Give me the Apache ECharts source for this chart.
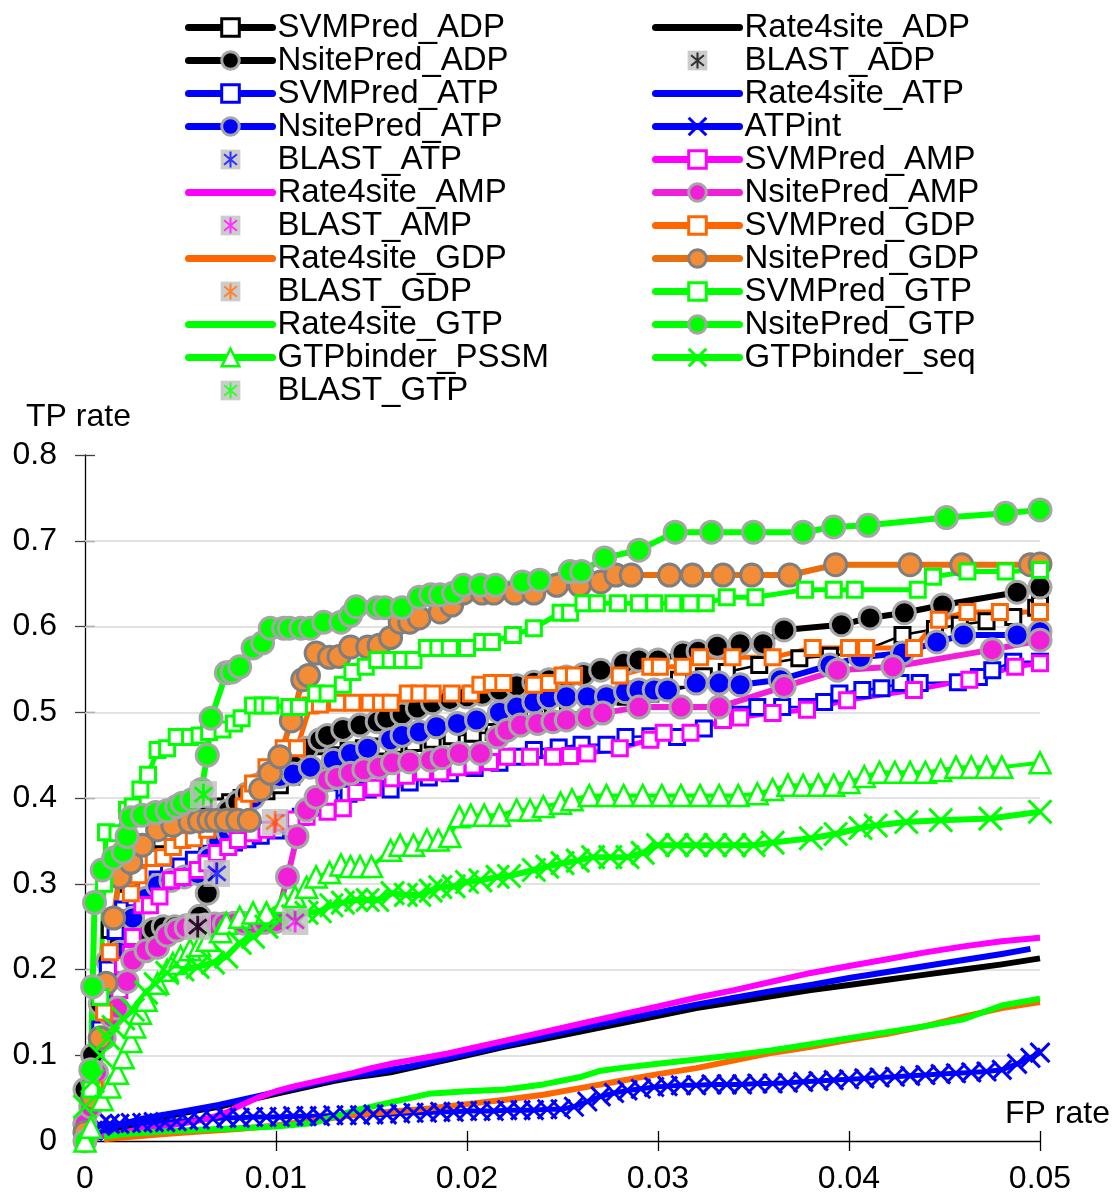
<!DOCTYPE html>
<html>
<head>
<meta charset="utf-8">
<title>TP rate vs FP rate</title>
<script src="https://cdn.jsdelivr.net/npm/echarts@6/dist/echarts.min.js"></script>
<style>
  html, body { margin: 0; padding: 0; background: #fff; }
  #chart { width: 1117px; height: 1197px; }
</style>
</head>
<body>
<div id="chart"></div>
<script>
// ---- axis ticks and grid levels ----
const xTicks = [0, 0.01, 0.02, 0.03, 0.04, 0.05];
const yTicks = [0, 0.1, 0.2, 0.3, 0.4, 0.5, 0.6, 0.7, 0.8];
const gridLevels = [0.1, 0.2, 0.3, 0.4, 0.5, 0.6, 0.7];

// ---- ADP ----
const svmPredADP = [[0,0],[0.0003,0.05],[0.0008,0.12],[0.0011,0.17],[0.0013,0.246],[0.0018,0.25],[0.0023,0.30],[0.0027,0.345],[0.0033,0.345],[0.004,0.352],[0.0046,0.355],[0.0052,0.36],[0.0058,0.372],[0.0064,0.38],[0.007,0.39],[0.0076,0.395],[0.0082,0.4],[0.0088,0.405],[0.0095,0.408],[0.0102,0.415],[0.0108,0.425],[0.0115,0.435],[0.0122,0.443],[0.013,0.45],[0.0138,0.455],[0.0146,0.458],[0.0154,0.46],[0.0162,0.462],[0.0172,0.464],[0.0182,0.468],[0.0192,0.472],[0.0203,0.475],[0.0214,0.477],[0.0225,0.49],[0.0235,0.503],[0.0245,0.505],[0.0256,0.508],[0.027,0.514],[0.0283,0.518],[0.0296,0.522],[0.0311,0.538],[0.0324,0.542],[0.0336,0.547],[0.0353,0.555],[0.0374,0.563],[0.039,0.566],[0.0406,0.57],[0.0428,0.59],[0.0445,0.597],[0.0458,0.602],[0.0472,0.606],[0.0486,0.611],[0.0498,0.622],[0.05,0.625]];
const rate4siteADP = [[0,0],[0.001,0.008],[0.002,0.016],[0.003,0.022],[0.004,0.027],[0.005,0.032],[0.006,0.036],[0.007,0.04],[0.008,0.045],[0.009,0.05],[0.01,0.055],[0.011,0.06],[0.012,0.065],[0.013,0.07],[0.014,0.074],[0.015,0.077],[0.016,0.08],[0.017,0.085],[0.018,0.09],[0.019,0.095],[0.02,0.1],[0.022,0.11],[0.024,0.119],[0.026,0.128],[0.028,0.137],[0.03,0.146],[0.032,0.155],[0.034,0.162],[0.036,0.169],[0.038,0.176],[0.04,0.182],[0.042,0.188],[0.044,0.194],[0.046,0.2],[0.048,0.206],[0.05,0.213]];
const nsitePredADP = [[0,0.06],[0.0004,0.1],[0.0008,0.16],[0.0012,0.21],[0.0018,0.232],[0.0025,0.24],[0.003,0.243],[0.0036,0.247],[0.0041,0.25],[0.0047,0.25],[0.0053,0.251],[0.006,0.262],[0.0064,0.289],[0.0067,0.33],[0.007,0.37],[0.0075,0.385],[0.008,0.395],[0.0085,0.405],[0.009,0.415],[0.0095,0.422],[0.01,0.43],[0.0105,0.44],[0.0109,0.452],[0.0116,0.458],[0.0123,0.468],[0.0127,0.473],[0.0135,0.48],[0.0144,0.485],[0.0153,0.489],[0.0158,0.493],[0.0166,0.498],[0.0174,0.505],[0.0182,0.511],[0.0191,0.515],[0.02,0.518],[0.0208,0.521],[0.0217,0.526],[0.0226,0.531],[0.0235,0.535],[0.0243,0.538],[0.0252,0.541],[0.0261,0.544],[0.027,0.549],[0.0282,0.557],[0.029,0.561],[0.03,0.561],[0.0313,0.569],[0.0321,0.571],[0.0331,0.577],[0.0343,0.58],[0.0355,0.58],[0.0366,0.596],[0.0396,0.602],[0.0411,0.61],[0.0429,0.616],[0.0449,0.625],[0.0488,0.64],[0.05,0.646]];
const blastADP = [[0.0059,0.25]];

// ---- ATP ----
const svmPredATP = [[0,0],[0.0004,0.07],[0.0008,0.13],[0.0012,0.2],[0.0016,0.245],[0.002,0.27],[0.0026,0.283],[0.0032,0.295],[0.0038,0.305],[0.0044,0.313],[0.005,0.32],[0.0057,0.328],[0.0064,0.335],[0.0071,0.343],[0.0078,0.348],[0.0085,0.352],[0.0092,0.356],[0.01,0.362],[0.0107,0.37],[0.0113,0.378],[0.0121,0.39],[0.0128,0.401],[0.0138,0.405],[0.0148,0.41],[0.016,0.41],[0.017,0.418],[0.018,0.424],[0.0191,0.429],[0.0204,0.435],[0.0217,0.441],[0.0226,0.448],[0.0235,0.456],[0.0248,0.459],[0.026,0.462],[0.0273,0.462],[0.0283,0.471],[0.0296,0.472],[0.031,0.471],[0.0324,0.481],[0.0334,0.491],[0.0343,0.497],[0.0352,0.506],[0.0365,0.506],[0.0378,0.506],[0.0387,0.512],[0.0395,0.522],[0.0407,0.526],[0.0417,0.528],[0.0427,0.534],[0.0437,0.534],[0.0457,0.535],[0.0468,0.541],[0.0475,0.549],[0.0486,0.559],[0.05,0.559]];
const rate4siteATP = [[0,0],[0.001,0.012],[0.002,0.02],[0.003,0.026],[0.004,0.03],[0.005,0.034],[0.006,0.038],[0.007,0.042],[0.008,0.047],[0.009,0.052],[0.01,0.057],[0.011,0.062],[0.012,0.067],[0.013,0.072],[0.014,0.076],[0.015,0.079],[0.016,0.083],[0.017,0.087],[0.018,0.092],[0.019,0.097],[0.02,0.102],[0.022,0.112],[0.024,0.122],[0.026,0.132],[0.028,0.141],[0.03,0.15],[0.032,0.159],[0.034,0.167],[0.036,0.175],[0.038,0.182],[0.04,0.19],[0.042,0.197],[0.044,0.204],[0.046,0.211],[0.048,0.218],[0.0495,0.224]];
const nsitePredATP = [[0,0.02],[0.0004,0.07],[0.0008,0.12],[0.0012,0.17],[0.0018,0.22],[0.0025,0.26],[0.0032,0.283],[0.0038,0.298],[0.0045,0.304],[0.0052,0.308],[0.0059,0.312],[0.0065,0.33],[0.007,0.35],[0.0075,0.36],[0.008,0.366],[0.0084,0.38],[0.0088,0.4],[0.0095,0.42],[0.0102,0.425],[0.0109,0.428],[0.0118,0.436],[0.013,0.444],[0.0139,0.452],[0.0148,0.458],[0.016,0.468],[0.0166,0.473],[0.0175,0.477],[0.0184,0.483],[0.0195,0.487],[0.0205,0.491],[0.0217,0.5],[0.0226,0.506],[0.0235,0.512],[0.0243,0.517],[0.0252,0.518],[0.0263,0.518],[0.0273,0.518],[0.0283,0.524],[0.029,0.526],[0.0298,0.526],[0.0305,0.526],[0.032,0.534],[0.0332,0.534],[0.0343,0.532],[0.0364,0.538],[0.039,0.555],[0.0406,0.564],[0.0428,0.569],[0.0446,0.582],[0.046,0.59],[0.0488,0.59],[0.05,0.594]];
const atpInt = [[0,0.005],[0.0004,0.012],[0.0008,0.018],[0.0013,0.02],[0.0018,0.02],[0.0024,0.021],[0.003,0.021],[0.0036,0.022],[0.0042,0.022],[0.0048,0.023],[0.0054,0.024],[0.006,0.025],[0.0067,0.026],[0.0074,0.027],[0.0081,0.027],[0.0088,0.028],[0.0095,0.028],[0.0102,0.028],[0.0109,0.029],[0.0116,0.029],[0.0123,0.029],[0.013,0.03],[0.0137,0.03],[0.0144,0.03],[0.0151,0.031],[0.0158,0.031],[0.0165,0.032],[0.0172,0.033],[0.0179,0.033],[0.0186,0.034],[0.0193,0.034],[0.02,0.035],[0.0207,0.035],[0.0214,0.035],[0.0221,0.036],[0.0228,0.036],[0.0235,0.036],[0.0242,0.037],[0.0249,0.037],[0.0256,0.04],[0.0263,0.046],[0.027,0.052],[0.0277,0.056],[0.0284,0.059],[0.0291,0.061],[0.0298,0.063],[0.0305,0.064],[0.0312,0.065],[0.032,0.065],[0.0328,0.066],[0.0336,0.066],[0.0344,0.066],[0.0352,0.067],[0.036,0.067],[0.0368,0.068],[0.0376,0.069],[0.0384,0.07],[0.0392,0.071],[0.04,0.072],[0.0408,0.073],[0.0416,0.074],[0.0424,0.075],[0.0432,0.076],[0.044,0.077],[0.0448,0.078],[0.0456,0.079],[0.0464,0.08],[0.0472,0.081],[0.048,0.083],[0.0488,0.09],[0.0495,0.097],[0.05,0.103]];
const blastATP = [[0.0069,0.312]];

// ---- AMP ----
const svmPredAMP = [[0,0],[0.0003,0.06],[0.0008,0.12],[0.0013,0.155],[0.0018,0.176],[0.002,0.205],[0.0024,0.218],[0.0025,0.238],[0.003,0.275],[0.0034,0.275],[0.0039,0.285],[0.0045,0.304],[0.0051,0.308],[0.0059,0.316],[0.0064,0.324],[0.0069,0.336],[0.0075,0.343],[0.008,0.351],[0.0088,0.359],[0.0095,0.363],[0.0104,0.371],[0.011,0.375],[0.0116,0.378],[0.0127,0.384],[0.0135,0.388],[0.0142,0.407],[0.0151,0.412],[0.0161,0.423],[0.0168,0.426],[0.0177,0.43],[0.0186,0.43],[0.0195,0.436],[0.0203,0.438],[0.0212,0.442],[0.0221,0.448],[0.0233,0.448],[0.0245,0.448],[0.0254,0.449],[0.0263,0.452],[0.028,0.458],[0.0296,0.468],[0.0303,0.476],[0.0317,0.476],[0.0334,0.491],[0.0343,0.494],[0.036,0.499],[0.0378,0.503],[0.0399,0.514],[0.0434,0.526],[0.0463,0.538],[0.0487,0.553],[0.05,0.557]];
const rate4siteAMP = [[0,0],[0.001,0.006],[0.002,0.01],[0.003,0.014],[0.004,0.017],[0.005,0.02],[0.006,0.024],[0.007,0.03],[0.0075,0.034],[0.008,0.04],[0.009,0.05],[0.01,0.058],[0.011,0.064],[0.012,0.069],[0.013,0.074],[0.014,0.079],[0.015,0.085],[0.016,0.09],[0.017,0.094],[0.018,0.098],[0.019,0.102],[0.02,0.107],[0.022,0.117],[0.024,0.127],[0.026,0.137],[0.028,0.147],[0.03,0.157],[0.032,0.167],[0.034,0.176],[0.036,0.186],[0.038,0.196],[0.04,0.204],[0.042,0.212],[0.044,0.22],[0.046,0.227],[0.048,0.233],[0.05,0.237]];
const nsitePredAMP = [[0,0.02],[0.0003,0.04],[0.0006,0.08],[0.001,0.12],[0.0014,0.145],[0.0017,0.155],[0.0022,0.186],[0.0025,0.211],[0.0032,0.222],[0.0038,0.226],[0.0043,0.24],[0.0048,0.246],[0.0053,0.249],[0.0058,0.25],[0.0063,0.252],[0.0068,0.253],[0.0073,0.253],[0.0078,0.254],[0.0083,0.254],[0.0088,0.254],[0.0094,0.255],[0.01,0.256],[0.0106,0.308],[0.0111,0.355],[0.0116,0.386],[0.0121,0.401],[0.0127,0.421],[0.0132,0.424],[0.0139,0.429],[0.0146,0.433],[0.0154,0.436],[0.0161,0.441],[0.017,0.442],[0.0181,0.444],[0.0187,0.447],[0.0196,0.452],[0.0207,0.452],[0.0216,0.471],[0.0221,0.479],[0.0228,0.485],[0.0237,0.487],[0.0245,0.489],[0.0252,0.491],[0.0263,0.494],[0.0271,0.499],[0.029,0.506],[0.0312,0.506],[0.0332,0.506],[0.0366,0.53],[0.0394,0.549],[0.0423,0.553],[0.0475,0.573],[0.05,0.584]];
const blastAMP = [[0.011,0.256]];

// ---- GDP ----
const svmPredGDP = [[0,0],[0.0005,0.06],[0.001,0.15],[0.0013,0.22],[0.0016,0.26],[0.0024,0.289],[0.0028,0.31],[0.0032,0.33],[0.0036,0.33],[0.0041,0.331],[0.0046,0.343],[0.0051,0.351],[0.0057,0.353],[0.0064,0.363],[0.0071,0.371],[0.0078,0.378],[0.0083,0.39],[0.0086,0.405],[0.0088,0.417],[0.0095,0.436],[0.0104,0.458],[0.0111,0.458],[0.0118,0.508],[0.0123,0.509],[0.0132,0.511],[0.014,0.511],[0.0149,0.511],[0.0155,0.511],[0.016,0.511],[0.0169,0.522],[0.0175,0.522],[0.0182,0.522],[0.0192,0.522],[0.0202,0.522],[0.0207,0.532],[0.0213,0.534],[0.0219,0.534],[0.0235,0.532],[0.0243,0.534],[0.025,0.543],[0.0256,0.543],[0.028,0.543],[0.0296,0.553],[0.0301,0.553],[0.0313,0.553],[0.0322,0.564],[0.0339,0.564],[0.036,0.564],[0.0381,0.575],[0.04,0.575],[0.0409,0.575],[0.0434,0.575],[0.0447,0.608],[0.0462,0.617],[0.0479,0.617],[0.05,0.617]];
const rate4siteGDP = [[0.001,0.002],[0.002,0.004],[0.004,0.008],[0.006,0.011],[0.008,0.014],[0.01,0.018],[0.012,0.024],[0.014,0.03],[0.016,0.034],[0.018,0.038],[0.02,0.043],[0.022,0.048],[0.024,0.054],[0.026,0.062],[0.028,0.07],[0.03,0.078],[0.032,0.085],[0.034,0.094],[0.036,0.103],[0.038,0.11],[0.04,0.118],[0.042,0.125],[0.044,0.134],[0.046,0.145],[0.048,0.155],[0.05,0.162]];
const nsitePredGDP = [[0,0.01],[0.0004,0.05],[0.0008,0.12],[0.0011,0.184],[0.0015,0.26],[0.0018,0.308],[0.0024,0.325],[0.003,0.345],[0.0038,0.363],[0.0046,0.368],[0.0055,0.372],[0.006,0.373],[0.0065,0.374],[0.0069,0.374],[0.0074,0.374],[0.008,0.374],[0.0086,0.374],[0.0092,0.41],[0.0097,0.429],[0.0102,0.448],[0.0108,0.49],[0.0114,0.538],[0.0117,0.543],[0.0121,0.569],[0.0128,0.564],[0.0133,0.565],[0.0139,0.576],[0.0148,0.576],[0.0154,0.578],[0.016,0.587],[0.0165,0.605],[0.017,0.605],[0.0175,0.61],[0.0186,0.617],[0.0192,0.625],[0.0198,0.639],[0.0208,0.639],[0.0214,0.639],[0.0225,0.639],[0.0235,0.639],[0.0247,0.648],[0.0259,0.648],[0.027,0.652],[0.0278,0.66],[0.0286,0.66],[0.0306,0.66],[0.0318,0.66],[0.0334,0.66],[0.0349,0.66],[0.0369,0.66],[0.0393,0.672],[0.0432,0.672],[0.0459,0.672],[0.0495,0.672],[0.05,0.673]];
const blastGDP = [[0.00995,0.372]];

// ---- GTP ----
const svmPredGTP = [[0,0],[0.0003,0.06],[0.0008,0.168],[0.001,0.3],[0.0011,0.36],[0.0017,0.359],[0.0022,0.386],[0.0025,0.39],[0.0029,0.41],[0.0033,0.427],[0.0038,0.456],[0.0043,0.458],[0.0048,0.471],[0.0055,0.471],[0.006,0.473],[0.0065,0.477],[0.0072,0.48],[0.0078,0.487],[0.0082,0.493],[0.0088,0.508],[0.0093,0.508],[0.0097,0.508],[0.0107,0.506],[0.0112,0.506],[0.0121,0.522],[0.0127,0.522],[0.0135,0.532],[0.014,0.547],[0.0147,0.553],[0.0153,0.561],[0.016,0.561],[0.0166,0.561],[0.0172,0.561],[0.0179,0.575],[0.0185,0.575],[0.0191,0.575],[0.02,0.575],[0.0208,0.582],[0.0213,0.582],[0.0224,0.59],[0.0235,0.598],[0.0249,0.616],[0.0254,0.616],[0.0261,0.627],[0.0268,0.627],[0.0279,0.627],[0.029,0.627],[0.0298,0.627],[0.0308,0.627],[0.0317,0.627],[0.0325,0.627],[0.0336,0.634],[0.0351,0.634],[0.0377,0.643],[0.0392,0.643],[0.0403,0.643],[0.0436,0.643],[0.0444,0.658],[0.0462,0.664],[0.0482,0.664],[0.05,0.666]];
const rate4siteGTP = [[0.001,0.005],[0.002,0.008],[0.004,0.011],[0.006,0.013],[0.008,0.015],[0.01,0.017],[0.012,0.021],[0.014,0.035],[0.016,0.045],[0.018,0.055],[0.02,0.058],[0.022,0.06],[0.024,0.066],[0.026,0.075],[0.027,0.082],[0.028,0.085],[0.03,0.09],[0.032,0.095],[0.034,0.1],[0.036,0.106],[0.038,0.113],[0.04,0.12],[0.042,0.127],[0.044,0.134],[0.046,0.142],[0.048,0.158],[0.05,0.166]];
const nsitePredGTP = [[0,0],[0.0003,0.083],[0.0004,0.18],[0.0005,0.278],[0.0009,0.316],[0.0015,0.33],[0.002,0.337],[0.0022,0.355],[0.0024,0.377],[0.003,0.38],[0.0037,0.383],[0.0043,0.385],[0.0048,0.39],[0.0051,0.394],[0.0056,0.398],[0.0061,0.41],[0.0064,0.45],[0.0066,0.493],[0.0074,0.546],[0.0077,0.547],[0.0081,0.553],[0.0088,0.575],[0.0093,0.581],[0.0097,0.598],[0.0104,0.598],[0.0107,0.598],[0.0113,0.598],[0.0118,0.598],[0.0125,0.605],[0.0134,0.605],[0.0139,0.613],[0.0142,0.623],[0.0153,0.622],[0.0157,0.622],[0.0166,0.622],[0.0175,0.634],[0.0181,0.637],[0.0186,0.637],[0.0193,0.639],[0.0198,0.648],[0.0207,0.648],[0.0215,0.648],[0.0229,0.652],[0.0238,0.654],[0.0254,0.664],[0.026,0.664],[0.0272,0.68],[0.029,0.689],[0.0309,0.71],[0.0328,0.71],[0.035,0.71],[0.0376,0.71],[0.0392,0.716],[0.041,0.718],[0.0451,0.727],[0.0482,0.732],[0.05,0.736]];
const gtpBinderPSSM = [[0,0],[0.0003,0.016],[0.0009,0.048],[0.0013,0.063],[0.0017,0.079],[0.002,0.097],[0.0024,0.116],[0.0026,0.133],[0.0029,0.149],[0.0032,0.164],[0.0038,0.184],[0.0043,0.199],[0.0046,0.207],[0.005,0.215],[0.0055,0.223],[0.006,0.228],[0.0064,0.234],[0.0071,0.244],[0.0074,0.254],[0.0081,0.261],[0.0088,0.266],[0.0095,0.266],[0.0104,0.278],[0.011,0.285],[0.0116,0.296],[0.0121,0.308],[0.0128,0.313],[0.0134,0.322],[0.0139,0.32],[0.0144,0.32],[0.015,0.32],[0.016,0.339],[0.0165,0.345],[0.0172,0.345],[0.0179,0.351],[0.0185,0.351],[0.0191,0.355],[0.0196,0.378],[0.0202,0.38],[0.0209,0.38],[0.0217,0.38],[0.0226,0.386],[0.0233,0.386],[0.024,0.39],[0.0249,0.394],[0.0255,0.398],[0.0264,0.403],[0.0273,0.403],[0.0282,0.403],[0.0292,0.403],[0.0302,0.403],[0.0312,0.403],[0.0322,0.403],[0.0332,0.403],[0.0342,0.403],[0.0352,0.405],[0.036,0.41],[0.0368,0.415],[0.0376,0.415],[0.0384,0.415],[0.0392,0.415],[0.04,0.418],[0.0408,0.425],[0.0416,0.43],[0.0424,0.43],[0.0432,0.43],[0.044,0.43],[0.0448,0.432],[0.0456,0.436],[0.0464,0.436],[0.0472,0.436],[0.048,0.436],[0.05,0.441]];
const gtpBinderSeq = [[0,0.04],[0.0004,0.07],[0.0008,0.1],[0.0012,0.12],[0.0015,0.133],[0.002,0.143],[0.0025,0.153],[0.0032,0.173],[0.0037,0.183],[0.0043,0.196],[0.0051,0.2],[0.0059,0.203],[0.0067,0.208],[0.0074,0.215],[0.0081,0.231],[0.0088,0.238],[0.0095,0.25],[0.0102,0.258],[0.0109,0.262],[0.0116,0.266],[0.0123,0.268],[0.0129,0.275],[0.0135,0.278],[0.0142,0.281],[0.0148,0.281],[0.0153,0.281],[0.0161,0.289],[0.0168,0.287],[0.0175,0.287],[0.0181,0.292],[0.0186,0.296],[0.0193,0.297],[0.02,0.302],[0.0207,0.304],[0.0216,0.308],[0.0222,0.309],[0.0235,0.316],[0.0242,0.32],[0.025,0.324],[0.0258,0.327],[0.0266,0.331],[0.0275,0.331],[0.0284,0.331],[0.0292,0.336],[0.03,0.345],[0.031,0.345],[0.032,0.345],[0.033,0.345],[0.034,0.345],[0.035,0.345],[0.036,0.348],[0.038,0.353],[0.0393,0.358],[0.0406,0.365],[0.0414,0.368],[0.043,0.372],[0.0448,0.374],[0.0474,0.376],[0.05,0.384]];
const blastGTP = [[0.0062,0.404]];

// ---- legend columns ----
const legendLeft = ['SVMPred_ADP','NsitePred_ADP','SVMPred_ATP','NsitePred_ATP','BLAST_ATP','Rate4site_AMP','BLAST_AMP','Rate4site_GDP','BLAST_GDP','Rate4site_GTP','GTPbinder_PSSM','BLAST_GTP'];
const legendRight = ['Rate4site_ADP','BLAST_ADP','Rate4site_ATP','ATPint','SVMPred_AMP','NsitePred_AMP','SVMPred_GDP','NsitePred_GDP','SVMPred_GTP','NsitePred_GTP','GTPbinder_seq'];

// ---- styling ----
const FONT = '"Liberation Sans", Arial, sans-serif';
const BLACK = '#000000', BLUE = '#0000ff', MAGENTA = '#ff00ff', PINK = '#f020d8';
const ORANGE = '#ff6600', DARK_ORANGE = '#e86e0e', ORANGE_FILL = '#f28c36', GREEN = '#00ff00';
const GRAY = '#a6a6a6', DARK_GRAY = '#7f7f7f';
const CROSS = 'path://M0,0L10,10M10,0L0,10';
const BLAST_COLORS = { BLAST_ADP: BLACK, BLAST_ATP: BLUE, BLAST_AMP: MAGENTA, BLAST_GDP: ORANGE, BLAST_GTP: GREEN };

// grey square with a coloured asterisk; `pad` leaves a transparent margin
function asteriskIcon(color, pad) {
  const p = pad || 0;
  const svg = "<svg xmlns='http://www.w3.org/2000/svg' width='" + (52 + 2 * p) + "' height='" + (52 + 2 * p) +
    "' viewBox='" + (-p) + " " + (-p) + " " + (52 + 2 * p) + " " + (52 + 2 * p) + "'>" +
    "<rect x='0' y='0' width='52' height='52' fill='#c0c0c0'/>" +
    "<path d='M26,5V47M9,12L43,40M43,12L9,40' stroke='" + color + "' stroke-width='5.5' fill='none'/></svg>";
  return 'image://data:image/svg+xml;charset=utf-8,' + encodeURIComponent(svg);
}

function plain(name, data, color, width) {
  return { type: 'line', name, data, symbol: 'none', clip: false,
    lineStyle: { color, width, join: 'round' }, itemStyle: { color } };
}
function squares(name, data, color, width) {
  return { type: 'line', name, data, symbol: 'rect', symbolSize: 15, clip: false,
    lineStyle: { color, width, join: 'round' },
    itemStyle: { color: '#ffffff', borderColor: color, borderWidth: 3 } };
}
function circles(name, data, lineColor, fill, border) {
  return { type: 'line', name, data, symbol: 'circle', symbolSize: 22, clip: false,
    lineStyle: { color: lineColor, width: 6, join: 'round' },
    itemStyle: { color: fill, borderColor: border, borderWidth: 3 } };
}
function crosses(name, data, color, width, size) {
  return { type: 'line', name, data, symbol: CROSS, symbolSize: size, clip: false,
    lineStyle: { color, width, join: 'round' },
    itemStyle: { color, borderColor: color, borderWidth: 3 } };
}
function triangles(name, data, color, width) {
  return { type: 'line', name, data, symbol: 'triangle', symbolSize: 21, clip: false,
    lineStyle: { color, width, join: 'round' },
    itemStyle: { color: '#ffffff', borderColor: color, borderWidth: 2.5 } };
}
function blast(name, data, color) {
  return { type: 'scatter', name, data, symbol: asteriskIcon(color), symbolSize: 27,
    symbolKeepAspect: true, z: 10, itemStyle: { color } };
}

const series = [
  Object.assign(squares('SVMPred_ADP', svmPredADP, BLACK, 2.5), {
    markLine: { silent: true, symbol: 'none', z: 1, animation: false,
      label: { show: false },
      lineStyle: { color: '#d9d9d9', width: 1.5, type: 'solid' },
      data: gridLevels.map(v => ({ yAxis: v })) }
  }),
  plain('Rate4site_ADP', rate4siteADP, BLACK, 6),
  circles('NsitePred_ADP', nsitePredADP, BLACK, BLACK, GRAY),
  blast('BLAST_ADP', blastADP, BLACK),
  squares('SVMPred_ATP', svmPredATP, BLUE, 2.5),
  plain('Rate4site_ATP', rate4siteATP, BLUE, 6),
  circles('NsitePred_ATP', nsitePredATP, BLUE, BLUE, GRAY),
  crosses('ATPint', atpInt, BLUE, 5, 19),
  blast('BLAST_ATP', blastATP, BLUE),
  squares('SVMPred_AMP', svmPredAMP, MAGENTA, 5),
  plain('Rate4site_AMP', rate4siteAMP, MAGENTA, 6),
  circles('NsitePred_AMP', nsitePredAMP, PINK, PINK, GRAY),
  blast('BLAST_AMP', blastAMP, MAGENTA),
  squares('SVMPred_GDP', svmPredGDP, ORANGE, 5),
  plain('Rate4site_GDP', rate4siteGDP, ORANGE, 6),
  circles('NsitePred_GDP', nsitePredGDP, DARK_ORANGE, ORANGE_FILL, DARK_GRAY),
  blast('BLAST_GDP', blastGDP, ORANGE),
  squares('SVMPred_GTP', svmPredGTP, GREEN, 5),
  plain('Rate4site_GTP', rate4siteGTP, GREEN, 6),
  circles('NsitePred_GTP', nsitePredGTP, GREEN, GREEN, GRAY),
  triangles('GTPbinder_PSSM', gtpBinderPSSM, GREEN, 4),
  crosses('GTPbinder_seq', gtpBinderSeq, GREEN, 6, 23),
  blast('BLAST_GTP', blastGTP, GREEN)
];

// line-only entries show just the stroke; BLAST entries use a padded icon
function legendItems(names) {
  return names.map(n => {
    if (n.indexOf('Rate4site') === 0) return { name: n, itemStyle: { opacity: 0, borderWidth: 0 } };
    if (BLAST_COLORS[n]) return { name: n, icon: asteriskIcon(BLAST_COLORS[n], 3) };
    return n;
  });
}
function legendBlock(names, left) {
  return {
    data: legendItems(names), orient: 'vertical', left, top: 11, padding: 0,
    itemWidth: 84, itemHeight: 22, itemGap: 0, selectedMode: false,
    textStyle: { fontFamily: FONT, fontSize: 33, color: '#000', lineHeight: 32.25 },
    lineStyle: { width: 7, cap: 'round' },
    itemStyle: { borderWidth: 'inherit' }
  };
}

const axisFont = { fontFamily: FONT, fontSize: 32, color: '#000' };

const option = {
  animation: false,
  backgroundColor: '#ffffff',
  grid: { left: 85, right: 77, top: 455, bottom: 56, containLabel: false },
  legend: [legendBlock(legendLeft, 185), legendBlock(legendRight, 652)],
  xAxis: [
    { type: 'value', min: xTicks[0], max: xTicks[xTicks.length - 1], interval: 0.01,
      axisLine: { show: true, lineStyle: { color: '#000', width: 1.3 } },
      axisTick: { show: true, length: 10, lineStyle: { color: '#000', width: 1.3 } },
      axisLabel: Object.assign({ margin: 22, lineHeight: 32 }, axisFont),
      splitLine: { show: false } },
    { type: 'value', position: 'bottom', min: xTicks[0], max: xTicks[xTicks.length - 1], interval: 0.01,
      axisLine: { show: false },
      axisTick: { show: true, inside: true, length: 10, lineStyle: { color: '#000', width: 1.3 } },
      axisLabel: { show: false }, splitLine: { show: false } }
  ],
  yAxis: [
    { type: 'value', min: yTicks[0], max: yTicks[yTicks.length - 1], interval: 0.1,
      axisLine: { show: true, lineStyle: { color: '#000', width: 1.3 } },
      axisTick: { show: true, length: 10, lineStyle: { color: '#404040', width: 1.3 } },
      axisLabel: Object.assign({ margin: 28 }, axisFont),
      splitLine: { show: false } },
    { type: 'value', position: 'left', min: yTicks[0], max: yTicks[yTicks.length - 1], interval: 0.1,
      axisLine: { show: false },
      axisTick: { show: true, inside: true, length: 10, lineStyle: { color: '#404040', width: 1.3 } },
      axisLabel: { show: false }, splitLine: { show: false } }
  ],
  graphic: [
    { type: 'text', x: 26, y: 417, style: { text: 'TP rate', fontFamily: FONT, fontSize: 32, fill: '#000', verticalAlign: 'middle', align: 'left' } },
    { type: 'text', x: 1005, y: 1114, style: { text: 'FP rate', fontFamily: FONT, fontSize: 32, fill: '#000', verticalAlign: 'middle', align: 'left' } }
  ],
  series
};

const chart = echarts.init(document.getElementById('chart'), null, { renderer: 'canvas' });
chart.setOption(option);
</script>
</body>
</html>
